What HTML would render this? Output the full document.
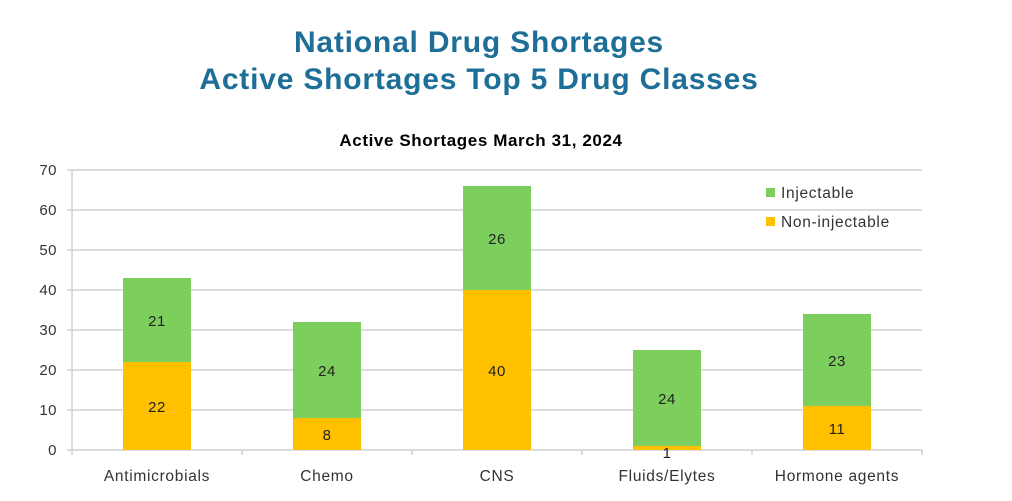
<!DOCTYPE html>
<html><head><meta charset="utf-8"><style>
body{margin:0;background:#fff;width:1012px;height:496px;overflow:hidden}
svg text{font-family:"Liberation Sans",sans-serif}
</style></head><body>
<svg width="1012" height="496" viewBox="0 0 1012 496">
<text x="479" y="52" text-anchor="middle" font-size="30" font-weight="bold" fill="#1e6f97" letter-spacing="0.8">National Drug Shortages</text>
<text x="479" y="89" text-anchor="middle" font-size="30" font-weight="bold" fill="#1e6f97" letter-spacing="0.8">Active Shortages Top 5 Drug Classes</text>
<text x="481" y="146" text-anchor="middle" font-size="17" font-weight="bold" fill="#000" letter-spacing="0.6">Active Shortages March 31, 2024</text>
<g stroke="#d0d0d0" stroke-width="1.5">
<line x1="72" x2="922" y1="170" y2="170"/><line x1="72" x2="922" y1="210" y2="210"/>
<line x1="72" x2="922" y1="250" y2="250"/><line x1="72" x2="922" y1="290" y2="290"/>
<line x1="72" x2="922" y1="330" y2="330"/><line x1="72" x2="922" y1="370" y2="370"/>
<line x1="72" x2="922" y1="410" y2="410"/>
<line x1="72" x2="72" y1="170" y2="455"/><line x1="72" x2="922" y1="450" y2="450"/>
<line x1="67" x2="72" y1="170" y2="170"/><line x1="67" x2="72" y1="210" y2="210"/><line x1="67" x2="72" y1="250" y2="250"/><line x1="67" x2="72" y1="290" y2="290"/><line x1="67" x2="72" y1="330" y2="330"/><line x1="67" x2="72" y1="370" y2="370"/><line x1="67" x2="72" y1="410" y2="410"/><line x1="67" x2="72" y1="450" y2="450"/>
<line x1="242" x2="242" y1="450" y2="455"/><line x1="412" x2="412" y1="450" y2="455"/><line x1="582" x2="582" y1="450" y2="455"/><line x1="752" x2="752" y1="450" y2="455"/><line x1="922" x2="922" y1="450" y2="455"/>
</g>
<g font-size="15" fill="#333" text-anchor="end" letter-spacing="0.5">
<text x="57" y="175">70</text><text x="57" y="215">60</text><text x="57" y="255">50</text><text x="57" y="295">40</text><text x="57" y="335">30</text><text x="57" y="375">20</text><text x="57" y="415">10</text><text x="57" y="455">0</text>
</g>
<g fill="#ffc000">
<rect x="123" y="362" width="68" height="88"/><rect x="293" y="418" width="68" height="32"/><rect x="463" y="290" width="68" height="160"/><rect x="633" y="446" width="68" height="4"/><rect x="803" y="406" width="68" height="44"/>
</g>
<g fill="#7ccf5c">
<rect x="123" y="278" width="68" height="84"/><rect x="293" y="322" width="68" height="96"/><rect x="463" y="186" width="68" height="104"/><rect x="633" y="350" width="68" height="96"/><rect x="803" y="314" width="68" height="92"/>
</g>
<g font-size="15" fill="#222" text-anchor="middle" letter-spacing="0.5">
<text x="157" y="326">21</text><text x="157" y="412">22</text>
<text x="327" y="376">24</text><text x="327" y="440">8</text>
<text x="497" y="244">26</text><text x="497" y="376">40</text>
<text x="667" y="404">24</text><text x="667" y="458">1</text>
<text x="837" y="366">23</text><text x="837" y="434">11</text>
</g>
<g font-size="15.5" fill="#333" text-anchor="middle" letter-spacing="0.7">
<text x="157" y="481">Antimicrobials</text><text x="327" y="481">Chemo</text><text x="497" y="481">CNS</text><text x="667" y="481">Fluids/Elytes</text><text x="837" y="481">Hormone agents</text>
</g>
<rect x="766" y="188" width="9" height="9" fill="#7ccf5c"/>
<rect x="766" y="217" width="9" height="9" fill="#ffc000"/>
<g font-size="15.5" fill="#333" letter-spacing="0.7"><text x="781" y="198">Injectable</text><text x="781" y="227">Non-injectable</text></g>
</svg>
</body></html>
